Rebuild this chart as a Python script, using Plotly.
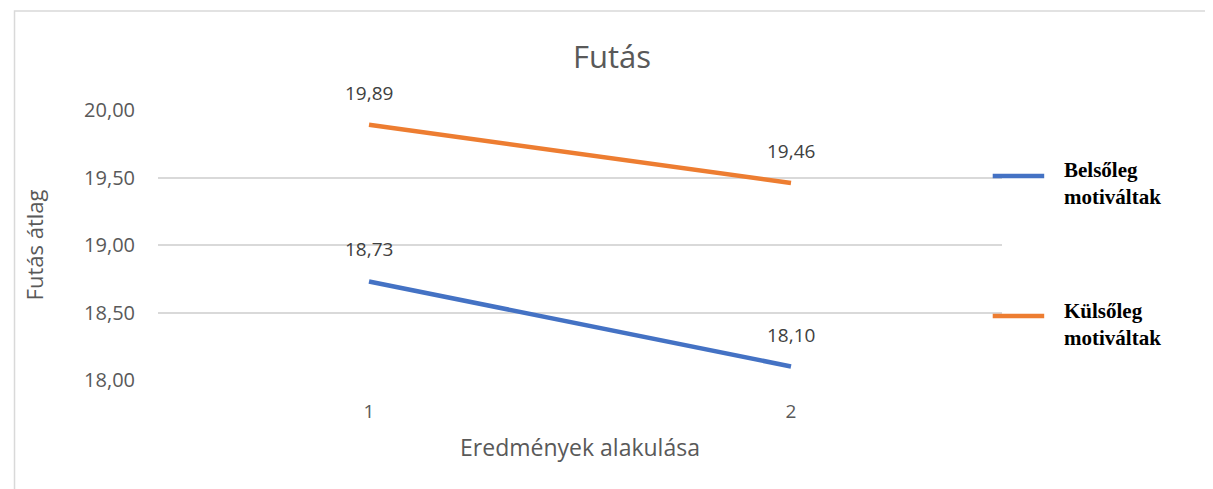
import plotly.graph_objects as go

categories = ["1", "2"]
belso = [18.73, 18.10]
kulso = [19.89, 19.46]
series_names = ["Belsőleg<br>motiváltak", "Külsőleg<br>motiváltak"]
colors = ["#4472C4", "#ED7D31"]

GRAY = "#595959"
FONT = "Open Sans"

fig = go.Figure()
for vals, color in [(belso, colors[0]), (kulso, colors[1])]:
    fig.add_trace(go.Scatter(
        x=categories, y=vals, mode="lines",
        line=dict(color=color, width=4.5),
        showlegend=False, hoverinfo="skip",
    ))
    for i, v in enumerate(vals):
        fig.add_annotation(
            x=i, y=v, text=f"{v:.2f}".replace(".", ","),
            showarrow=False, yshift=32,
            font=dict(family=FONT, size=19, color="#404040"),
        )

# hand-drawn legend on the right
legend_y = [0.756, 0.237]
for name, color, ly in zip(series_names, colors, legend_y):
    fig.add_shape(type="line", xref="paper", yref="paper",
                  x0=0.989, x1=1.050, y0=ly, y1=ly,
                  line=dict(color=color, width=4.5))
    fig.add_annotation(xref="paper", yref="paper", x=1.071, y=ly - 0.03,
                       text=f"<b>{name}</b>", showarrow=False,
                       xanchor="left", yanchor="middle", align="left",
                       font=dict(family="Liberation Serif", size=21, color="black"))

# chart border
fig.add_shape(type="rect", xref="paper", yref="paper",
              x0=-0.170, x1=1.262, y0=-0.45, y1=1.367,
              line=dict(color="#D9D9D9", width=1.5), layer="below")

fig.update_layout(
    width=1213, height=489,
    margin=dict(l=150, r=219, t=102, b=117),
    paper_bgcolor="white", plot_bgcolor="white",
    separators=",.",
    title=dict(text="Futás", x=(604 / 1213), xanchor="center",
               y=1 - 49 / 489, yanchor="middle",
               font=dict(family=FONT, size=31, color=GRAY)),
    font=dict(family=FONT, color=GRAY),
)
fig.update_xaxes(
    type="category", range=[-0.5, 1.5],
    showgrid=False, showline=False, zeroline=False, ticks="",
    ticklabelstandoff=18,
    tickfont=dict(size=19, color=GRAY),
    title=dict(text="Eredmények alakulása", font=dict(size=23, color=GRAY), standoff=16),
)
fig.update_yaxes(
    range=[18, 20], dtick=0.5, tickformat=".2f",
    showgrid=True, gridcolor="#D9D9D9", gridwidth=1.5,
    zeroline=False, showline=False, ticks="", ticklabelstandoff=22,
    tickfont=dict(size=20, color=GRAY),
    title=dict(text="Futás átlag", font=dict(size=22, color=GRAY), standoff=34),
)

fig.write_html("out.html")
